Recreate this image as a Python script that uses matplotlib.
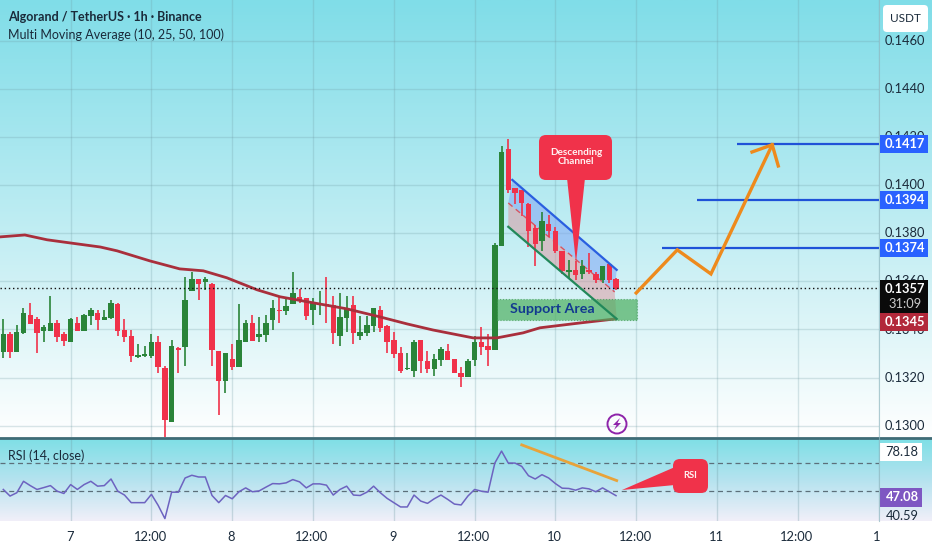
import numpy as np
import matplotlib
matplotlib.use('Agg')
import matplotlib.pyplot as plt
from matplotlib.colors import LinearSegmentedColormap
from matplotlib.patches import FancyBboxPatch, Polygon, Circle, Rectangle

plt.rcParams['font.family'] = ['Lato', 'DejaVu Sans']

# candles, prices in 1e-5 USDT
opens = [13306, 13381, 13306, 13385, 13460, 13443, 13395, 13395, 13428, 13381, 13346, 13428, 13393, 13457, 13469, 13439,
         13446, 13507, 13399, 13371, 13287, 13288, 13288, 13349, 13239, 13015, 13323, 13329, 13558, 13609, 13597, 13591,
         13309, 13187, 13278, 13244, 13346, 13429, 13367, 13377, 13439, 13482, 13478, 13505, 13537, 13530, 13479, 13501,
         13507, 13500, 13375, 13449, 13500, 13375, 13386, 13415, 13482, 13413, 13357, 13302, 13234, 13226, 13357, 13270,
         13235, 13274, 13309, 13278, 13221, 13203, 13274, 13349, 13332, 13314, 13748, 14151, 13987, 13981, 13922, 13824,
         13766, 13839, 13811, 13728, 13637, 13648, 13630, 13648, 13631, 13606, 13673, 13608]
highs = [13443, 13388, 13420, 13490, 13510, 13450, 13420, 13540, 13440, 13388, 13447, 13451, 13465, 13489, 13482, 13482,
         13521, 13510, 13443, 13399, 13341, 13332, 13381, 13371, 13249, 13357, 13329, 13618, 13641, 13609, 13618, 13593,
         13309, 13302, 13341, 13507, 13440, 13460, 13451, 13460, 13521, 13535, 13526, 13639, 13568, 13530, 13530, 13562,
         13618, 13540, 13551, 13540, 13540, 13457, 13457, 13489, 13499, 13420, 13389, 13329, 13302, 13357, 13357, 13309,
         13299, 13329, 13341, 13278, 13246, 13278, 13371, 13410, 13381, 13759, 14161, 14191, 13987, 13981, 13925, 13835,
         13890, 13877, 13828, 13728, 13689, 13683, 13689, 13720, 13641, 13665, 13676, 13613]
lows = [13280, 13280, 13306, 13381, 13424, 13302, 13350, 13395, 13350, 13332, 13346, 13393, 13392, 13420, 13399, 13439,
        13443, 13371, 13350, 13263, 13280, 13285, 13281, 13221, 12952, 13015, 13221, 13249, 13558, 13521, 13565, 13249,
        13043, 13138, 13232, 13244, 13346, 13353, 13350, 13350, 13399, 13429, 13461, 13505, 13510, 13440, 13420, 13461,
        13429, 13341, 13332, 13389, 13341, 13357, 13374, 13389, 13389, 13302, 13281, 13221, 13232, 13201, 13221, 13221,
        13207, 13249, 13274, 13219, 13160, 13202, 13249, 13292, 13249, 13313, 13748, 13967, 13922, 13870, 13745, 13662,
        13728, 13784, 13717, 13631, 13613, 13606, 13609, 13631, 13595, 13592, 13592, 13565]
closes = [13381, 13306, 13389, 13468, 13424, 13385, 13410, 13428, 13367, 13352, 13442, 13393, 13460, 13482, 13439, 13450,
          13510, 13393, 13368, 13288, 13292, 13300, 13349, 13244, 13025, 13332, 13314, 13524, 13609, 13589, 13609, 13316,
          13187, 13302, 13244, 13357, 13429, 13353, 13381, 13428, 13489, 13478, 13499, 13551, 13519, 13457, 13510, 13507,
          13500, 13386, 13450, 13489, 13386, 13389, 13420, 13489, 13407, 13346, 13298, 13226, 13239, 13350, 13267, 13235,
          13278, 13318, 13274, 13219, 13203, 13271, 13349, 13329, 13314, 13752, 14140, 13978, 13967, 13928, 13811, 13755,
          13852, 13810, 13725, 13645, 13648, 13627, 13662, 13637, 13606, 13662, 13606, 13568]

ma_bars = [-0.5, 3.2, 6.5, 9.9, 14.4, 16.9, 21.8, 26.2, 29.7, 33.2, 37.7, 41.1, 46, 51, 56, 60, 63.8, 69.8, 73.3, 77.2, 79.7, 85.6, 90.9]
ma_vals = [13785, 13793, 13773, 13760, 13743, 13727, 13685, 13652, 13644, 13615, 13565, 13536, 13511, 13486, 13452, 13423, 13398, 13365, 13365, 13386, 13407, 13427, 13444]

rsi = [51.4, 46.8, 49.1, 57.1, 54.1, 51.4, 52.7, 54.1, 50.2, 48.6, 54.8, 51.4, 54.8, 57.1, 53.7, 54.1, 58.7, 50.2, 47.5, 42.2,
       42.2, 42.2, 48.0, 40.3, 31.1, 49.5, 49.5, 59.4, 61.3, 60.1, 60.1, 47.2, 42.2, 47.2, 44.9, 49.8, 52.5, 49.8, 50.4, 53.0,
       55.5, 55.3, 56.0, 58.3, 56.7, 52.5, 55.3, 55.3, 54.4, 47.5, 51.4, 53.7, 47.5, 47.2, 49.5, 53.7, 49.1, 45.2, 42.2, 39.2,
       39.2, 47.5, 43.3, 41.7, 44.9, 47.5, 44.5, 41.2, 40.6, 46.8, 51.4, 50.2, 49.5, 69.8, 78.18, 69.8, 69.8, 67.5, 61.0, 58.7,
       61.7, 59.4, 55.5, 52.3, 52.1, 50.9, 52.5, 51.8, 49.8, 52.5, 49.8, 47.08]

# trader drawings as (bar, price)
levels = [14170, 13940, 13740]
level_starts = [109, 103, 97.8]
arrow_x = [94.0, 100.1, 105.1, 114.2]
arrow_y = [13552, 13731, 13631, 14168]
barb_x = [111.2, 114.2, 115.1]
barb_y = [14138, 14168, 14080]
chan_top_x, chan_top_y = [75.6, 91.1], [14022, 13648]
chan_mid_x, chan_mid_y = [75, 90.8], [13926, 13556]
chan_low_x, chan_low_y = [75, 91.1], [13827, 13444]
support = (73.3, 94.1, 13440, 13527)
rsi_trend_x, rsi_trend_y = [77, 91.1], [82.5, 57.6]

tick_bars = [10, 22, 34, 46, 58, 70, 82, 94, 106, 118, 130]
tick_labels = ['7', '12:00', '8', '12:00', '9', '12:00', '10', '12:00', '11', '12:00', '1']
price_ticks = [0.1460, 0.1440, 0.1420, 0.1400, 0.1380, 0.1360, 0.1340, 0.1320, 0.1300]

W, H = 932, 550
GREEN = '#2a8439'
RED = '#f0324a'
TEXT = '#1a2a3a'
GRID = '#6f9aa3'


def rect(x0, y0, x1, y1):
    return [x0 / W, 1 - y1 / H, (x1 - x0) / W, (y1 - y0) / H]


def callout(ax, x0, y0, x1, y1, tip, base):
    ax.add_patch(Polygon([tip, base[0], base[1]], color=RED, lw=0, zorder=8))
    ax.add_patch(FancyBboxPatch((x0 + 6, y0 + 6), x1 - x0 - 12, y1 - y0 - 12,
                                boxstyle='round,pad=6,rounding_size=7', fc=RED, ec='none', zorder=8))


fig = plt.figure(figsize=(W / 100, H / 100), dpi=100, facecolor='white')

# backgrounds run under the price scale too
top_cmap = LinearSegmentedColormap.from_list('top', ['#80dde8', '#a8e7ef', '#d3f2f6', '#ffffff'])
rsi_cmap = LinearSegmentedColormap.from_list('rsi', ['#7fdfe6', '#b5e3ef', '#f1eff9'])
bg1 = fig.add_axes(rect(0, 0, W, 438))
bg1.imshow(np.linspace(0, 1, 256).reshape(-1, 1), aspect='auto', cmap=top_cmap)
bg1.axis('off')
bg2 = fig.add_axes(rect(0, 439, W, 521))
bg2.imshow(np.linspace(0, 1, 256).reshape(-1, 1), aspect='auto', cmap=rsi_cmap)
bg2.axis('off')

ax = fig.add_axes(rect(0, 0, 879, 437))
ax.patch.set_alpha(0)
ax.set_xlim(-0.49, 130.06)
ax.set_ylim(0.12953, 0.14770)
for s in ax.spines.values():
    s.set_visible(False)
ax.set_xticks(tick_bars)
ax.set_yticks(price_ticks)
ax.tick_params(length=0, labelbottom=False, labelleft=False)
ax.grid(True, color=GRID, alpha=0.25, lw=1)
ax.set_axisbelow(True)

o, h, l, c = [np.array(a) / 1e5 for a in (opens, highs, lows, closes)]
bars = np.arange(len(o))
colors = [GREEN if cc >= oo else RED for oo, cc in zip(o, c)]
ax.vlines(bars, l, h, colors=colors, lw=1.2, zorder=3)
ax.bar(bars, np.maximum(np.abs(c - o), 0.00002), bottom=np.minimum(o, c), width=0.8, color=colors, zorder=3)

ax.plot(ma_bars, np.array(ma_vals) / 1e5, color='#a92f3c', lw=2, zorder=4)
ax.axhline(c[-1] + 0.00003, color='#111111', lw=1, ls=(0, (1, 2)), zorder=4)

# descending channel
ax.fill([chan_top_x[0], chan_top_x[1], chan_mid_x[1], chan_mid_x[0]],
        np.array([chan_top_y[0], chan_top_y[1], chan_mid_y[1], chan_mid_y[0]]) / 1e5,
        color='#7fa6f5', alpha=0.55, lw=0, zorder=2)
ax.fill([chan_mid_x[0], chan_mid_x[1], chan_low_x[1], chan_low_x[0]],
        np.array([chan_mid_y[0], chan_mid_y[1], chan_low_y[1], chan_low_y[0]]) / 1e5,
        color='#e08a92', alpha=0.45, lw=0, zorder=2)
ax.plot(chan_top_x, np.array(chan_top_y) / 1e5, color='#2a5fe0', lw=1.6, zorder=5)
ax.plot(chan_mid_x, np.array(chan_mid_y) / 1e5, color='#d9535f', lw=1, ls=(0, (4, 3)), zorder=2)
ax.plot(chan_low_x, np.array(chan_low_y) / 1e5, color='#22885a', lw=1.6, zorder=6)

ax.add_patch(Rectangle((support[0], support[2] / 1e5), support[1] - support[0], (support[3] - support[2]) / 1e5,
                       fc='#4caf60', ec='#3f9a55', alpha=0.7, lw=0.8, ls=':', zorder=5))
ax.text(81.5, (support[2] + support[3]) / 2e5, 'Support Area', color='#123a8f',
        fontsize=10.3, fontweight='bold', ha='center', va='center', zorder=7)

for lev, start in zip(levels, level_starts):
    ax.plot([start, 130.06], [lev / 1e5, lev / 1e5], color='#1f52d8', lw=1.6, zorder=5, solid_capstyle='butt')
ax.plot(arrow_x, np.array(arrow_y) / 1e5, color='#ee8a1c', lw=2.4, zorder=6, solid_joinstyle='miter')
ax.plot(barb_x, np.array(barb_y) / 1e5, color='#ee8a1c', lw=2.4, zorder=6, solid_joinstyle='miter')

# rsi pane
ax2 = fig.add_axes(rect(0, 439, 879, 521))
ax2.patch.set_alpha(0)
ax2.set_xlim(-0.49, 130.06)
ax2.set_ylim(29.4, 86.6)
for s in ax2.spines.values():
    s.set_visible(False)
ax2.set_xticks(tick_bars)
ax2.set_yticks([])
ax2.tick_params(length=0, labelbottom=False)
ax2.grid(True, axis='x', color=GRID, alpha=0.3, lw=1)
for v in (70, 50):
    ax2.axhline(v, color='#5c6f7a', lw=0.9, ls=(0, (4, 3)))
ax2.plot(bars, rsi, color='#6d63c0', lw=1.1, zorder=3)
ax2.plot(rsi_trend_x, rsi_trend_y, color='#e8a33a', lw=2, zorder=4)

# everything else is placed in image pixels
ov = fig.add_axes([0, 0, 1, 1])
ov.set_xlim(0, W)
ov.set_ylim(H, 0)
ov.axis('off')
ov.patch.set_alpha(0)

ov.plot([0, W], [438, 438], color='#3f6b76', lw=2)
ov.plot([879, 879], [0, 521], color='#8fb7c0', lw=0.8, alpha=0.7)

ov.text(8, 17, 'Algorand / TetherUS · 1h · Binance', fontsize=9, fontweight='bold', color=TEXT, va='center')
ov.text(8, 35, 'Multi Moving Average (10, 25, 50, 100)', fontsize=9, color=TEXT, va='center')
ov.text(8, 456, 'RSI (14, close)', fontsize=9, color=TEXT, va='center')

ov.add_patch(FancyBboxPatch((886, 8), 39, 21, boxstyle='round,pad=3,rounding_size=4', fc='white', ec='none'))
ov.text(905.5, 18.5, 'USDT', fontsize=8.5, color=TEXT, ha='center', va='center')

for p in price_ticks:
    y = 41 + (0.1460 - p) / 0.002 * 48.1
    ov.text(905, y, f'{p:.4f}', fontsize=9.3, color=TEXT, ha='center', va='center')

for lev in levels:
    y = 41 + (14600 - lev) / 200 * 48.1
    ov.add_patch(Rectangle((880, y - 9), 48, 18, fc='#2962ff', ec='none', zorder=5))
    ov.text(905, y, f'{lev / 1e5:.4f}', fontsize=9.3, fontweight='bold', color='white', ha='center', va='center', zorder=6)

ov.add_patch(Rectangle((880, 280), 48, 33, fc='#0a0a0a', ec='none', zorder=5))
ov.text(905, 289, '0.1357', fontsize=9.3, fontweight='bold', color='white', ha='center', va='center', zorder=6)
ov.text(905, 304, '31:09', fontsize=9.3, color='#cccccc', ha='center', va='center', zorder=6)
ov.add_patch(Rectangle((880, 313), 48, 18, fc='#b2283a', ec='none', zorder=5))
ov.text(905, 322, '0.1345', fontsize=9.3, fontweight='bold', color='white', ha='center', va='center', zorder=6)

ov.add_patch(Rectangle((880, 443), 42, 18, fc='white', ec='none'))
ov.text(902, 452, '78.18', fontsize=9.3, color=TEXT, ha='center', va='center')
ov.add_patch(Rectangle((880, 488), 42, 19, fc='#7e57c2', ec='none'))
ov.text(902, 497, '47.08', fontsize=9.3, fontweight='bold', color='white', ha='center', va='center')
ov.text(902, 516, '40.59', fontsize=9.3, color=TEXT, ha='center', va='center')

for b, lab in zip(tick_bars, tick_labels):
    ov.text(3.3 + 6.733 * b - (2 if lab == '1' else 1), 537, lab, fontsize=9.3, color=TEXT, ha='center', va='center')

callout(ov, 539, 135, 612, 180, (576, 263), ((567, 178), (585, 178)))
ov.text(576, 157, 'Descending\nChannel', fontsize=7.2, fontweight='bold', color='#fff2f2', ha='center', va='center',
        linespacing=1.05, zorder=9)
callout(ov, 673, 459, 708, 493, (622, 490), ((675, 467), (675, 485)))
ov.text(690, 476, 'RSI', fontsize=6.8, fontweight='bold', color='#fff2f2', ha='center', va='center', zorder=9)

ov.add_patch(Circle((617, 424), 9.5, fc='none', ec='#8e24aa', lw=1.4))
ov.add_patch(Polygon([(620, 418), (613, 425), (616.5, 425), (614, 430), (621, 423), (617.5, 423)], color='#8e24aa', lw=0))

fig.savefig('out.png', dpi=100, facecolor='white')
